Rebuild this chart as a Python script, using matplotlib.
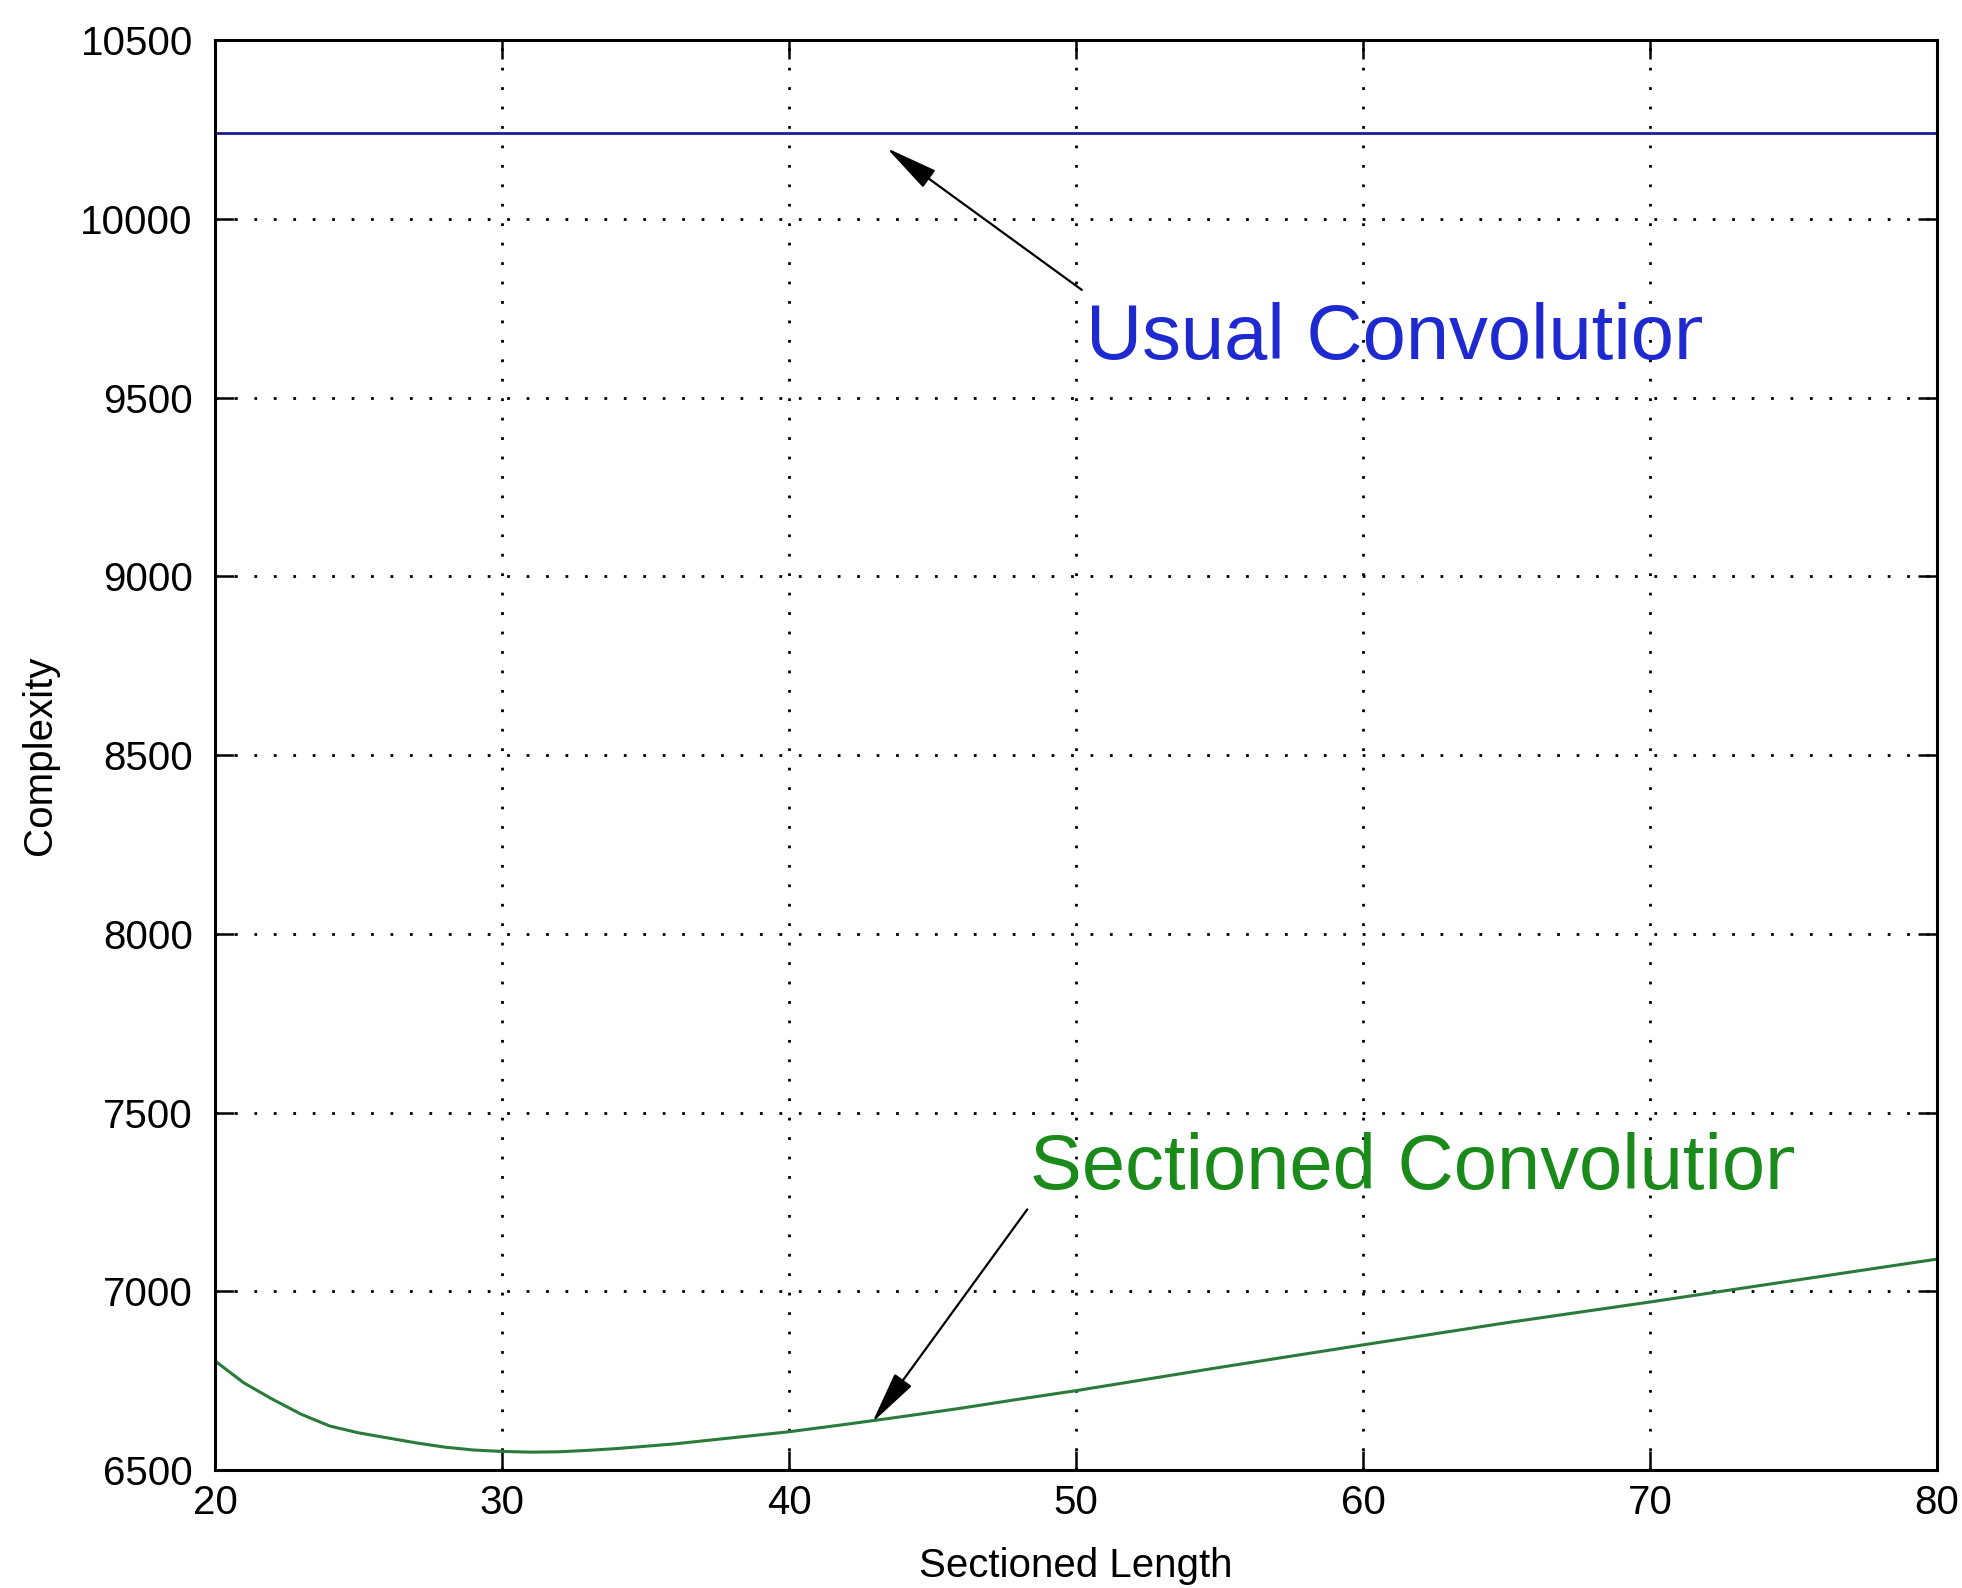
import numpy as np
import matplotlib
matplotlib.use('Agg')
import matplotlib.pyplot as plt
from matplotlib.transforms import Bbox, TransformedBbox

plt.rcParams['font.family'] = ['Liberation Sans', 'DejaVu Sans']

# data
section_len = [20, 21, 22, 23, 24, 25, 26, 27, 28, 29, 30, 31, 32, 33, 34, 36, 38, 40,
               42, 44, 46, 48, 50, 52, 55, 60, 65, 70, 75, 80]
sectioned = [6805, 6744, 6698, 6656, 6623, 6604, 6590, 6576, 6564, 6556, 6552, 6550, 6551,
             6555, 6560, 6573, 6590, 6607, 6628, 6650, 6673, 6698, 6722, 6748, 6787,
             6850, 6912, 6970, 7030, 7090]
usual_len = [20, 80]
usual = [10240, 10240]

x_ticks = [20, 30, 40, 50, 60, 70, 80]
y_ticks = [6500, 7000, 7500, 8000, 8500, 9000, 9500, 10000, 10500]

fig = plt.figure(figsize=(19.62, 15.88), dpi=100)
ax = fig.add_axes([0.1096, 0.0743, 0.9873 - 0.1096, 0.9748 - 0.0743])

ax.plot(usual_len, usual, color='#1c1c96', lw=2.0)
ax.plot(section_len, sectioned, color='#2a7a3a', lw=2.2)

ax.set_xlim(20, 80)
ax.set_ylim(6500, 10500)
ax.set_xticks(x_ticks)
ax.set_yticks(y_ticks)
ax.grid(True, color='black', linestyle=(0, (1, 6)), linewidth=2.0)
ax.tick_params(direction='in', length=13.5, width=1.8, labelsize=29,
               top=True, right=True, pad=10)
ax.tick_params(axis='y', pad=16)
for s in ax.spines.values():
    s.set_linewidth(2.2)

ax.set_xlabel('Sectioned Length', fontsize=29, labelpad=18)
ax.set_ylabel('Complexity', fontsize=29, labelpad=15)

# arrows
arrow = dict(arrowstyle='-|>,head_length=1.1,head_width=0.22',
             color='black', lw=1.6, mutation_scale=30, shrinkA=0, shrinkB=0)
ax.annotate('', xy=(43.4, 10198), xytext=(50.2, 9801), arrowprops=arrow)
ax.annotate('', xy=(42.9, 6633), xytext=(48.3, 7229), arrowprops=arrow)

# labels, clipped on the right like the original
t1 = ax.text(50.35, 9608, 'Usual Convolution', color='#1e2ad0', fontsize=56,
             ha='left', va='baseline')
t1.set_clip_box(TransformedBbox(Bbox([[20, 6500], [71.8, 10500]]), ax.transData))
t1.set_clip_on(True)

t2 = ax.text(48.4, 7285, 'Sectioned Convolution', color='#1a8a1a', fontsize=56,
             ha='left', va='baseline')
t2.set_clip_box(TransformedBbox(Bbox([[20, 6500], [75.0, 10500]]), ax.transData))
t2.set_clip_on(True)

fig.savefig('out.png', dpi=100, facecolor='white')
